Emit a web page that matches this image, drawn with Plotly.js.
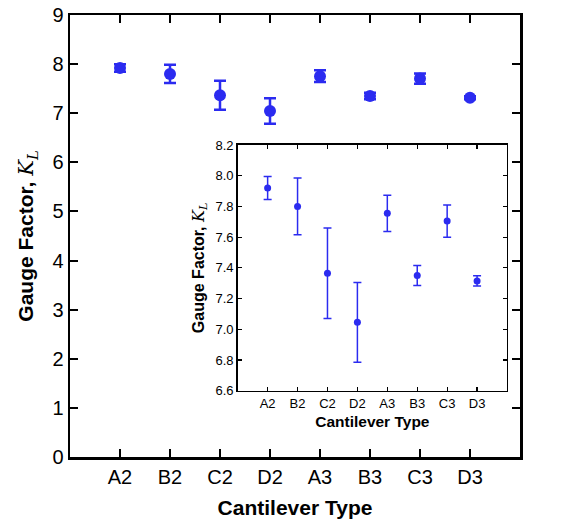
<!DOCTYPE html>
<html>
<head>
<meta charset="utf-8">
<script src="https://cdn.plot.ly/plotly-3.0.1.min.js"></script>
<style>html,body{margin:0;padding:0;background:#fff;}#chart{width:562px;height:520px;}</style>
</head>
<body>
<div id="chart"></div>
<script>
const categories = ["A2","B2","C2","D2","A3","B3","C3","D3"];
const gaugeFactor = [7.92, 7.80, 7.365, 7.045, 7.755, 7.35, 7.705, 7.315];
const gaugeError = [0.075, 0.185, 0.295, 0.26, 0.118, 0.065, 0.105, 0.033];
const mainYTicks = [0,1,2,3,4,5,6,7,8,9];
const insetYTicks = [6.6,6.8,7.0,7.2,7.4,7.6,7.8,8.0,8.2];

const blue = "#2b2bf0";
const FONT = "Liberation Sans, Arial, sans-serif";
const ytitle = 'Gauge Factor, <span style="font-family:\'DejaVu Serif\',serif;font-weight:normal"><i>K</i><sub><i>L</i></sub></span>';

const traces = [
  {
    x: categories, y: gaugeFactor, type: "scatter", mode: "markers",
    xaxis: "x", yaxis: "y",
    marker: {color: blue, size: 12},
    error_y: {type: "data", array: gaugeError, visible: true, color: blue, thickness: 2.5, width: 6},
    showlegend: false, hoverinfo: "skip"
  },
  {
    x: categories, y: gaugeFactor, type: "scatter", mode: "markers",
    xaxis: "x2", yaxis: "y2",
    marker: {color: blue, size: 7},
    error_y: {type: "data", array: gaugeError, visible: true, color: blue, thickness: 1.5, width: 4},
    showlegend: false, hoverinfo: "skip"
  }
];

const axisBase = {
  showline: true, linecolor: "#000", mirror: "ticks", ticks: "inside",
  tickcolor: "#000", showgrid: false, zeroline: false
};

const layout = {
  width: 562, height: 520,
  margin: {l: 70, r: 42, t: 15, b: 63},
  paper_bgcolor: "#fff", plot_bgcolor: "#fff",
  font: {family: FONT, color: "#000"},
  xaxis: Object.assign({}, axisBase, {
    type: "category", categoryorder: "array", categoryarray: categories,
    range: [-1, 8], domain: [0, 1], anchor: "y",
    linewidth: 2.5, ticklen: 8, tickwidth: 2,
    tickfont: {size: 20, family: FONT},
    title: {text: "Cantilever Type", font: {size: 21, family: FONT, weight: "bold"}, standoff: 14}
  }),
  yaxis: Object.assign({}, axisBase, {
    range: [0, 9], domain: [0, 1], anchor: "x",
    tickvals: mainYTicks, ticktext: mainYTicks.map(String),
    linewidth: 2.5, ticklen: 8, tickwidth: 2,
    tickfont: {size: 20, family: FONT},
    title: {text: ytitle, font: {size: 21, family: FONT, weight: "bold"}, standoff: 13}
  }),
  xaxis2: Object.assign({}, axisBase, {
    type: "category", categoryorder: "array", categoryarray: categories,
    range: [-1, 8], domain: [0.3727, 0.9711], anchor: "y2",
    linewidth: 1.5, ticklen: 4, tickwidth: 1.2,
    tickfont: {size: 13, family: FONT},
    title: {text: "Cantilever Type", font: {size: 15.5, family: FONT, weight: "bold"}, standoff: 6}
  }),
  yaxis2: Object.assign({}, axisBase, {
    range: [6.6, 8.2], domain: [0.15, 0.7059], anchor: "x2",
    tickvals: insetYTicks, ticktext: insetYTicks.map(v => v.toFixed(1)),
    linewidth: 1.5, ticklen: 4, tickwidth: 1.2,
    tickfont: {size: 13, family: FONT},
    title: {text: ytitle, font: {size: 16, family: FONT, weight: "bold"}, standoff: 7}
  })
};

Plotly.newPlot("chart", traces, layout, {staticPlot: true, displayModeBar: false});
</script>
</body>
</html>
